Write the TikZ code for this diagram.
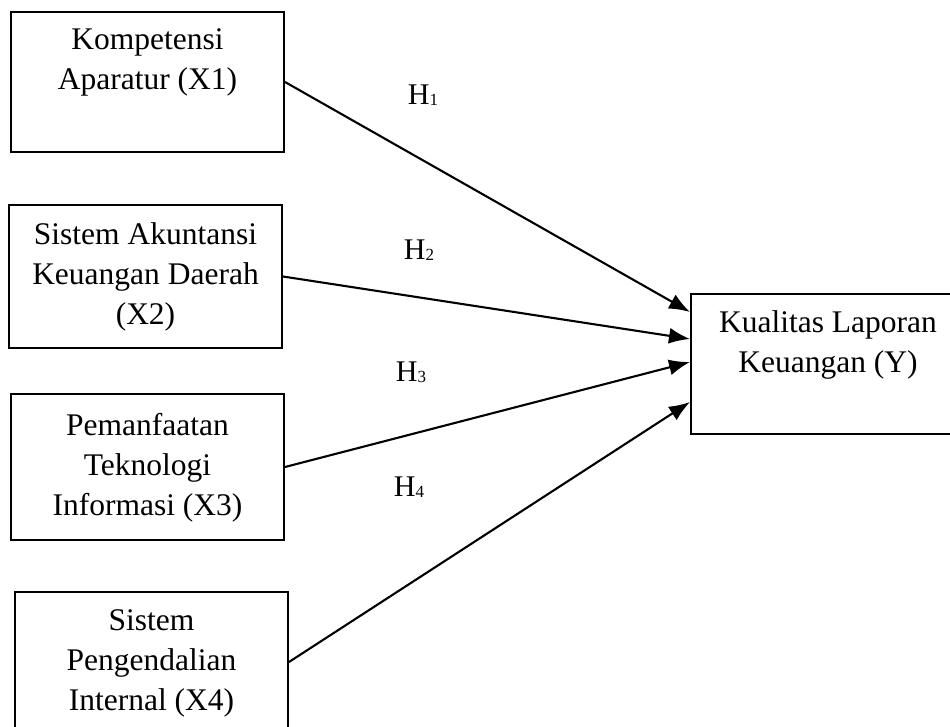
\documentclass[tikz,border=0pt]{standalone}
\usepackage{fontspec}
\setmainfont{Liberation Serif}
\usetikzlibrary{arrows.meta}
\begin{document}
\begin{tikzpicture}[x=1pt,y=-1pt,
  varbox/.style={draw, line width=2pt, inner sep=0pt, align=center,
    font=\fontsize{31.5}{40}\selectfont},
  hyp/.style={inner sep=0pt, font=\fontsize{30}{30}\selectfont},
  arr/.style={line width=2.1pt, -{Latex[length=21pt,width=16pt]}}]
\clip (0,0) rectangle (950,727);
\fill[white] (0,0) rectangle (950,727);
\node[varbox, minimum width=273pt, minimum height=140pt] (x1) at (147.5,82)
  {\strut Kompetensi\\\strut Aparatur (X1)\\\strut};
\node[varbox, minimum width=273pt, minimum height=143pt] (x2) at (145.5,276.5)
  {\strut Sistem Akuntansi\\\strut Keuangan Daerah\\\strut (X2)};
\node[varbox, minimum width=273pt, minimum height=146pt] (x3) at (147.5,467)
  {\strut Pemanfaatan\\\strut Teknologi\\\strut Informasi (X3)};
\node[varbox, minimum width=273pt, minimum height=140pt] (x4) at (151.5,662)
  {\strut Sistem\\\strut Pengendalian\\\strut Internal (X4)};
\node[varbox, minimum width=274pt, minimum height=140pt] (y) at (828,364)
  {\strut Kualitas Laporan\\\strut Keuangan (Y)\\\strut};
\node[hyp] (h1) at (423,95) {H\raisebox{-1pt}{\fontsize{17}{17}\selectfont 1}};
\node[hyp] (h2) at (419,250) {H\raisebox{-1pt}{\fontsize{17}{17}\selectfont 2}};
\node[hyp] (h3) at (411,372) {H\raisebox{-1pt}{\fontsize{17}{17}\selectfont 3}};
\node[hyp] (h4) at (409,487) {H\raisebox{-1pt}{\fontsize{17}{17}\selectfont 4}};
\draw[arr] (x1.east) -- ([yshift=-19pt]y.north west);
\draw[arr] (x2.east) -- ([yshift=-46pt]y.north west);
\draw[arr] (x3.east) -- ([yshift=-69pt]y.north west);
\draw[arr] (x4.east) -- ([yshift=-109pt]y.north west);
\end{tikzpicture}
\end{document}
